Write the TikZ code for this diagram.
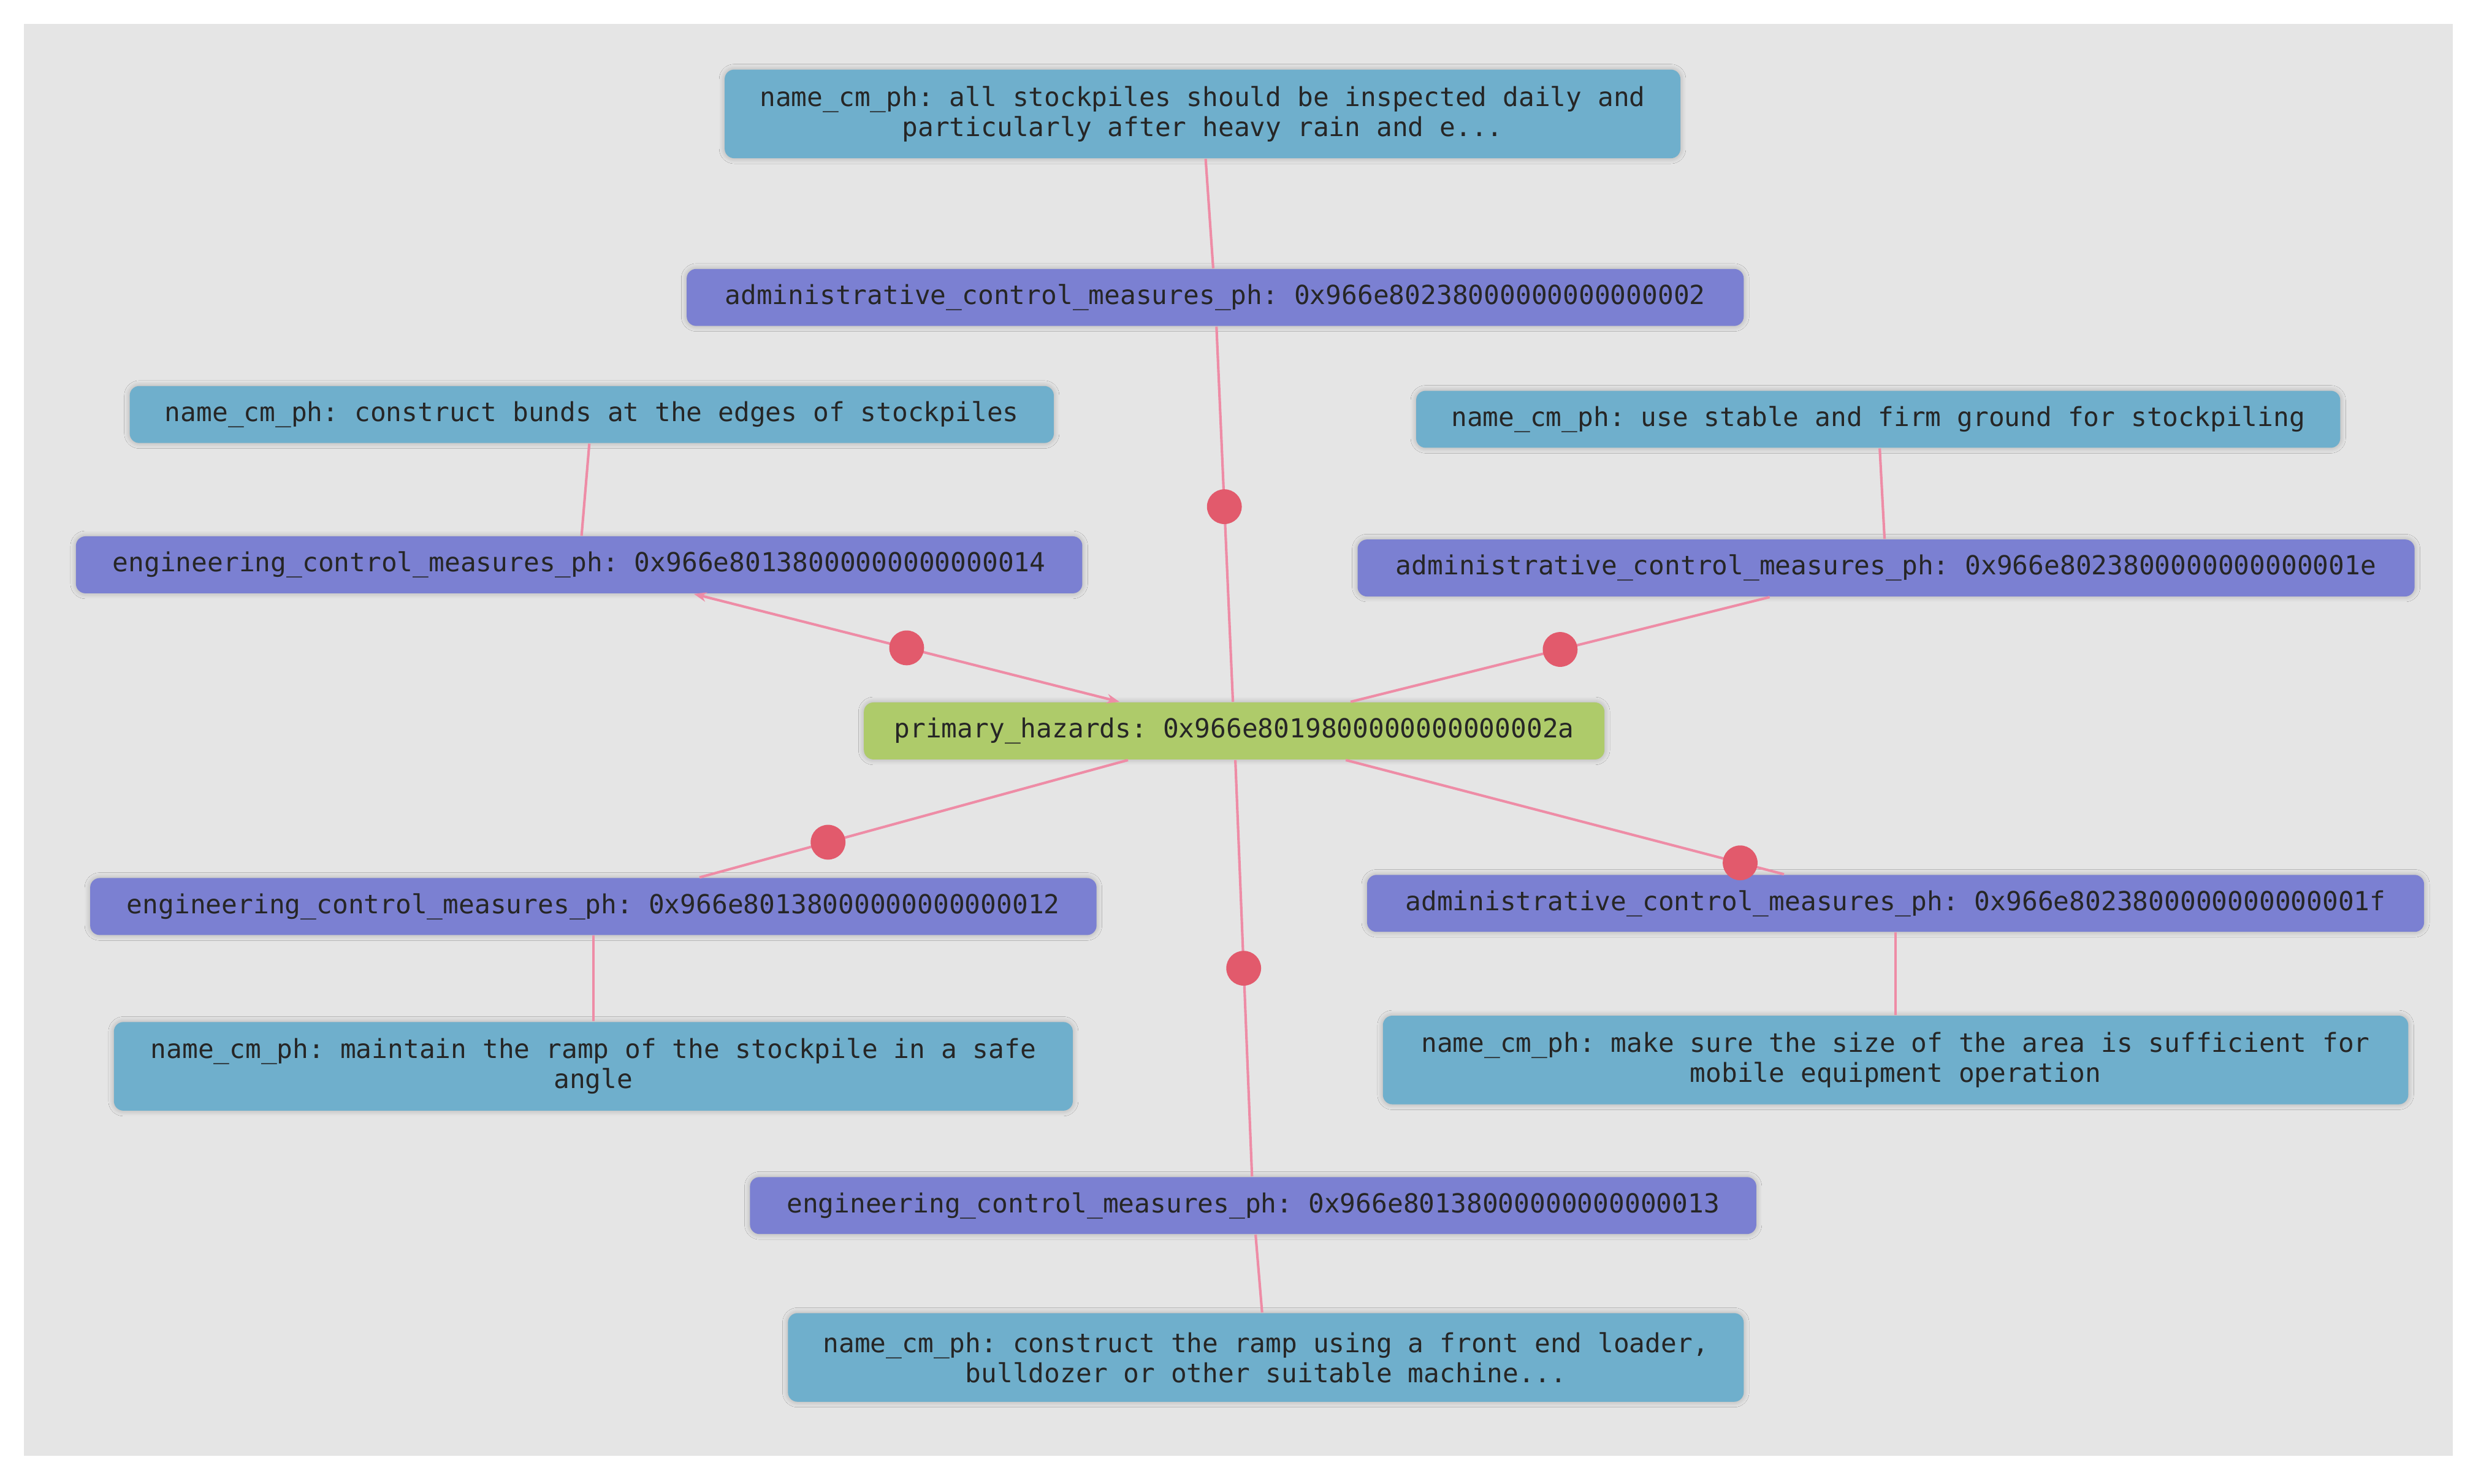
\documentclass[tikz,border=0pt]{standalone}
\usepackage{fontspec}
\setmonofont{DejaVu Sans Mono}
\usetikzlibrary{arrows.meta,shadows.blur}
\definecolor{bg}{HTML}{E5E5E5}
\definecolor{namec}{HTML}{6FAFCC}
\definecolor{ctrl}{HTML}{7B80D2}
\definecolor{prim}{HTML}{AECB6A}
\definecolor{edge}{HTML}{EE8CA6}
\definecolor{dot}{HTML}{E25A6C}
\tikzset{
  box/.style={rounded corners=3pt, inner sep=1pt, align=center, text=black!85,
    font=\ttfamily\fontsize{8.3}{9.5}\selectfont,
    blur shadow={shadow blur steps=6, shadow xshift=0pt, shadow yshift=0pt, shadow blur extra rounding=1pt, shadow opacity=25}},
  nm/.style={box, fill=namec},
  ct/.style={box, fill=ctrl},
  pr/.style={box, fill=prim},
  ln/.style={draw=edge, line width=0.8pt},
  hz/.style={ln, postaction={decorate}},
  md/.style={circle, fill=dot, inner sep=0pt, minimum size=11pt},
}
\begin{document}
\begin{tikzpicture}[x=0.5pt,y=-0.5pt]
\fill[white] (0,0) rectangle (1568,938);
\useasboundingbox (0,0) rectangle (1568,938);
\fill[bg] (15,15) rectangle (1550,920);

\node[nm, minimum width=302pt, minimum height=28pt] (n1) at (760,72) {name\_cm\_ph: all stockpiles should be inspected daily and\\particularly after heavy rain and e...};
\node[ct, minimum width=334pt, minimum height=18pt] (a02) at (768,188) {administrative\_control\_measures\_ph: 0x966e80238000000000000002};
\node[nm, minimum width=292pt, minimum height=18pt] (n2) at (374,262) {name\_cm\_ph: construct bunds at the edges of stockpiles};
\node[nm, minimum width=292pt, minimum height=18pt] (n3) at (1187,265) {name\_cm\_ph: use stable and firm ground for stockpiling};
\node[ct, minimum width=318pt, minimum height=18pt] (e14) at (366,357) {engineering\_control\_measures\_ph: 0x966e80138000000000000014};
\node[ct, minimum width=334pt, minimum height=18pt] (a1e) at (1192,359) {administrative\_control\_measures\_ph: 0x966e8023800000000000001e};
\node[pr, minimum width=234pt, minimum height=18pt] (p) at (780,462) {primary\_hazards: 0x966e8019800000000000002a};
\node[ct, minimum width=318pt, minimum height=18pt] (e12) at (375,573) {engineering\_control\_measures\_ph: 0x966e80138000000000000012};
\node[ct, minimum width=334pt, minimum height=18pt] (a1f) at (1198,571) {administrative\_control\_measures\_ph: 0x966e8023800000000000001f};
\node[nm, minimum width=303pt, minimum height=28pt] (n4) at (375,674) {name\_cm\_ph: maintain the ramp of the stockpile in a safe\\angle};
\node[nm, minimum width=324pt, minimum height=28pt] (n5) at (1198,670) {name\_cm\_ph: make sure the size of the area is sufficient for\\mobile equipment operation};
\node[ct, minimum width=318pt, minimum height=18pt] (e13) at (792,762) {engineering\_control\_measures\_ph: 0x966e80138000000000000013};
\node[nm, minimum width=302pt, minimum height=28pt] (n6) at (800,858) {name\_cm\_ph: construct the ramp using a front end loader,\\bulldozer or other suitable machine...};

\draw[ln] (n1) -- (a02);
\draw[ln] (n2) -- (e14);
\draw[ln] (n3) -- (a1e);
\draw[ln] (e12) -- (n4);
\draw[ln] (a1f) -- (n5);
\draw[ln] (e13) -- (n6);

\draw[ln] (p) -- node[md, pos=0.52]{} (a02);
\draw[ln, {Stealth[length=4pt,width=3pt]}-{Stealth[length=4pt,width=3pt]}] (p) -- node[md]{} (e14);
\draw[ln] (p) -- node[md]{} (a1e);
\draw[ln] (p) -- node[md, pos=0.7]{} (e12);
\draw[ln] (p) -- node[md, pos=0.9]{} (a1f);
\draw[ln] (p) -- node[md, pos=0.5]{} (e13);
\end{tikzpicture}
\end{document}
